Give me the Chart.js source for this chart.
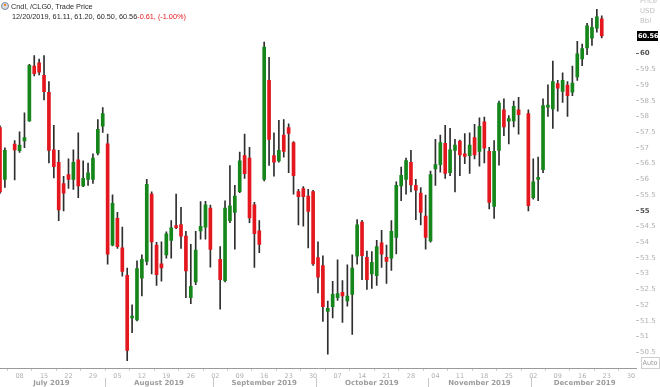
<!DOCTYPE html>
<html>
<head>
<meta charset="utf-8">
<script src="https://cdn.jsdelivr.net/npm/chart.js@4.4.1/dist/chart.umd.min.js"></script>
<style>
  html, body { margin: 0; padding: 0; background: #fff; }
  canvas { display: block; }
</style>
</head>
<body>
<canvas id="chart" width="660" height="387"></canvas>
<script>
// chart data, /CLG0 daily candles

const headerTitle = 'Cndl, /CLG0, Trade Price';
const firstDay = '2019-07-02';
const lastDay = '2019-12-31';
const holidays = ['2019-07-04', '2019-09-02', '2019-11-28'];
const monthNames = ['January', 'February', 'March', 'April', 'May', 'June', 'July',
    'August', 'September', 'October', 'November', 'December'];

const opens = [
    57.65, 56.00, 57.12, 56.91, 57.22, 57.86, 59.60, 59.71, 59.31, 58.77, 56.94, 56.54, 55.87, 56.15, 56.00, 56.62, 55.79, 56.00, 56.00, 56.83, 57.69,
    57.13, 53.91, 54.76, 53.82, 52.95, 51.59, 51.53, 52.86, 53.39, 55.53, 53.91, 53.31, 53.60, 54.06, 54.53, 54.56, 54.20, 52.24, 52.74, 54.36, 54.48, 55.09,
    53.46, 52.78, 54.69, 54.95, 55.61, 56.76, 56.68, 55.19, 54.36, 56.00, 59.15, 56.76, 56.59, 57.41, 57.65, 57.17, 55.61, 55.71, 55.47, 55.61,
    53.51, 53.26, 51.80, 51.95, 52.24, 52.41, 52.13, 52.34, 53.56, 54.64, 53.52, 52.99, 52.94, 53.98, 53.52, 53.49, 54.15, 55.79, 56.00, 56.54, 55.81, 55.56, 54.83,
    54.04, 56.33, 56.47, 57.15, 56.21, 56.92, 57.22, 56.81, 56.75, 57.33, 56.89, 57.83, 56.89, 55.14, 56.92, 58.21, 57.85, 57.86, 58.21, 58.09,
    55.42, 56.00, 56.31, 58.30, 58.24, 59.05, 58.80, 59.00, 58.77, 59.26, 59.83, 60.18, 60.49, 60.81, 61.11
];
const highs = [
    57.70, 57.00, 57.23, 57.51, 58.12, 59.66, 59.94, 59.83, 59.94, 59.11, 57.72, 56.92, 56.10, 56.65, 56.94, 57.48, 56.59, 56.52, 56.81, 57.90, 58.28,
    57.44, 55.51, 54.95, 54.48, 53.18, 52.01, 53.41, 53.60, 56.00, 55.60, 54.00, 54.01, 54.33, 54.69, 55.53, 55.11, 54.35, 53.93, 54.35, 55.29, 55.30, 55.18,
    53.86, 55.32, 56.44, 55.81, 56.87, 57.44, 57.02, 55.27, 54.69, 60.37, 59.88, 57.48, 57.88, 57.90, 57.77, 57.20, 55.68, 55.77, 55.68, 55.65,
    54.01, 53.57, 52.13, 52.76, 53.44, 52.78, 53.28, 53.60, 54.72, 54.70, 53.72, 53.70, 54.06, 54.38, 53.91, 54.69, 55.92, 56.39, 56.68, 56.92, 56.00, 55.74, 55.50,
    56.26, 57.27, 57.41, 57.72, 57.62, 57.27, 57.25, 57.46, 57.48, 57.75, 57.96, 57.98, 57.02, 57.23, 58.49, 58.56, 58.03, 58.49, 58.61, 58.21,
    56.65, 56.71, 58.56, 59.01, 59.76, 59.15, 59.39, 59.11, 59.60, 60.39, 60.30, 60.96, 61.12, 61.41, 61.20
];
const lows = [
    55.55, 55.74, 55.98, 56.86, 57.01, 57.84, 59.29, 59.32, 58.53, 56.52, 56.05, 54.69, 55.00, 55.71, 55.68, 55.42, 55.77, 55.81, 55.87, 56.78, 57.49,
    53.30, 53.88, 53.80, 52.92, 50.23, 51.12, 51.50, 52.29, 53.28, 52.99, 52.63, 52.76, 53.49, 53.49, 54.43, 53.80, 52.24, 52.05, 52.65, 54.10, 54.10, 53.21,
    51.87, 52.74, 54.62, 53.78, 55.58, 56.03, 54.62, 53.20, 53.67, 55.95, 56.44, 56.10, 56.55, 56.71, 56.21, 55.53, 54.55, 54.51, 53.82, 53.26,
    52.39, 51.48, 50.44, 51.59, 52.15, 51.45, 51.97, 51.07, 53.30, 52.81, 52.50, 52.53, 52.63, 53.20, 52.69, 53.10, 53.63, 55.32, 55.53, 55.60, 54.72, 54.55, 53.78,
    54.00, 55.81, 56.23, 56.03, 56.12, 55.60, 56.12, 56.50, 56.19, 56.65, 56.42, 56.52, 55.06, 54.76, 56.45, 57.39, 57.13, 57.67, 57.44, 55.00,
    55.37, 55.32, 56.21, 58.00, 57.62, 58.17, 58.45, 58.00, 58.66, 59.15, 59.62, 59.97, 60.26, 60.68, 60.50
];
const closes = [
    55.60, 56.92, 56.94, 57.09, 57.33, 59.63, 59.36, 59.41, 58.79, 56.92, 56.40, 55.03, 55.56, 56.00, 56.54, 55.79, 56.03, 56.21, 56.68, 57.59, 58.09,
    53.62, 55.24, 53.86, 53.07, 50.56, 51.64, 53.16, 53.46, 55.84, 54.01, 52.97, 53.18, 54.27, 54.46, 54.46, 54.19, 53.09, 52.60, 53.75, 54.51, 55.19, 53.77,
    52.81, 55.09, 55.16, 55.47, 56.59, 56.18, 54.77, 54.27, 53.93, 60.21, 57.27, 56.55, 56.92, 56.89, 57.46, 56.12, 55.45, 55.45, 54.98, 53.31,
    52.89, 51.95, 51.90, 52.34, 52.37, 52.29, 52.29, 53.18, 54.55, 53.57, 52.81, 53.36, 53.86, 53.62, 53.39, 54.35, 55.81, 56.13, 56.60, 55.82, 55.66, 54.95, 54.15,
    56.15, 56.47, 57.17, 56.19, 56.94, 57.09, 56.78, 56.73, 57.09, 56.78, 57.69, 56.99, 55.27, 56.89, 58.43, 57.67, 57.93, 58.32, 58.06, 55.16,
    55.92, 56.05, 58.35, 58.35, 59.11, 58.90, 59.15, 58.66, 59.06, 59.99, 60.16, 60.88, 60.84, 61.17, 60.56
];

const yTicks = [50.5, 51, 51.5, 52, 52.5, 53, 53.5, 54, 54.5, 55, 55.5, 56, 56.5, 57, 57.5, 58, 58.5, 59, 59.5, 60];
const yMin = 50;
const yMax = 61.54;
const axisUnits = ['Price', 'USD', 'Bbl'];

const UP = '#15861a';
const DOWN = '#e3171d';
const WICK = '#2e2e2e';
const FONT = 'DejaVu Sans';

// weekday slots (holidays stay as empty slots)
function weekdayList(from, to) {
    const out = [];
    const d = new Date(from + 'T00:00:00Z');
    const end = new Date(to + 'T00:00:00Z');
    while (d <= end) {
        const wd = d.getUTCDay();
        if (wd !== 0 && wd !== 6) out.push(d.toISOString().slice(0, 10));
        d.setUTCDate(d.getUTCDate() + 1);
    }
    return out;
}

const slots = weekdayList(firstDay, lastDay);
const tradingDays = slots.filter(d => !holidays.includes(d)).slice(0, opens.length);
const mondays = slots.map((d, i) => new Date(d + 'T00:00:00Z').getUTCDay() === 1 ? i : -1).filter(i => i >= 0);

const bodies = tradingDays.map((d, i) => ({ x: d, y: [opens[i], closes[i]] }));
const wicks = tradingDays.map((d, i) => ({ x: d, y: [lows[i], highs[i]] }));
const candleColor = ctx => closes[ctx.dataIndex] >= opens[ctx.dataIndex] ? UP : DOWN;
const isMajor = ctx => !!(ctx.tick && ctx.tick.value % 5 === 0);

const overlay = {
    id: 'overlay',
    afterDraw(chart) {
        const ctx = chart.ctx;
        const xs = chart.scales.x;
        const ys = chart.scales.y;
        const area = chart.chartArea;
        ctx.save();

        // header
        ctx.beginPath();
        ctx.arc(5, 6, 3.5, 0, Math.PI * 2);
        ctx.fillStyle = '#d9dde6';
        ctx.fill();
        ctx.strokeStyle = '#7d8596';
        ctx.lineWidth = 1;
        ctx.stroke();
        ctx.fillStyle = '#e88a2a';
        ctx.fillRect(4, 4, 2, 2);

        const last = closes.length - 1;
        const [yy, mm, dd] = tradingDays[last].split('-');
        const change = closes[last] - closes[last - 1];
        const pct = change / closes[last - 1] * 100;
        const line2 = `${mm}/${dd}/${yy}, ${opens[last].toFixed(2)}, ${highs[last].toFixed(2)}, ${lows[last].toFixed(2)}, ${closes[last].toFixed(2)}`;
        const line2Red = `${change.toFixed(2)}, (${pct.toFixed(2)}%)`;

        ctx.font = `7.3px 'Liberation Sans'`;
        ctx.textBaseline = 'middle';
        ctx.textAlign = 'left';
        ctx.fillStyle = '#2a2a2a';
        ctx.fillText(headerTitle, 11, 6.5);
        ctx.fillText(line2, 12, 16.5);
        const w = ctx.measureText(line2).width;
        ctx.fillStyle = DOWN;
        ctx.fillText(line2Red, 12 + w, 16.5);

        // units on the price axis
        ctx.font = `7px '${FONT}'`;
        ctx.fillStyle = '#c0c0c0';
        axisUnits.forEach((u, i) => ctx.fillText(u, area.right + 4, 1 + i * 10));

        // last price tag
        const py = ys.getPixelForValue(closes[last]);
        ctx.fillStyle = '#000';
        ctx.fillRect(area.right + 1, py - 5, 21, 10);
        ctx.font = `bold 6.5px '${FONT}'`;
        ctx.fillStyle = '#fff';
        ctx.fillText(closes[last].toFixed(2), area.right + 2, py + 0.5);

        // Auto box
        ctx.strokeStyle = '#cfcfcf';
        ctx.strokeRect(641.5, 357.5, 18, 11);
        ctx.font = `6.5px '${FONT}'`;
        ctx.fillStyle = '#9a9a9a';
        ctx.fillText('Auto', 642.5, 363.5);

        // month labels and separators
        const groups = [];
        slots.forEach((d, i) => {
            const key = d.slice(0, 7);
            const g = groups[groups.length - 1];
            if (g && g.key === key) g.last = i;
            else groups.push({ key, first: i, last: i });
        });
        ctx.font = `bold 7px '${FONT}'`;
        ctx.textAlign = 'center';
        groups.forEach((g, k) => {
            const cx = (xs.getPixelForValue(g.first) + xs.getPixelForValue(g.last)) / 2;
            const m = parseInt(g.key.slice(5, 7), 10) - 1;
            ctx.fillStyle = '#9c9c9c';
            ctx.fillText(`${monthNames[m]} ${g.key.slice(0, 4)}`, cx, 383);
            if (k < groups.length - 1) {
                const sx = Math.round((xs.getPixelForValue(g.last) + xs.getPixelForValue(g.last + 1)) / 2) + 0.5;
                ctx.strokeStyle = '#c8c8c8';
                ctx.beginPath();
                ctx.moveTo(sx, 378);
                ctx.lineTo(sx, 387);
                ctx.stroke();
            }
        });
        ctx.restore();
    }
};

new Chart(document.getElementById('chart'), {
    type: 'bar',
    data: {
        labels: slots,
        datasets: [
            {
                data: bodies,
                backgroundColor: candleColor,
                barThickness: 3,
                minBarLength: 2,
                grouped: false
            },
            {
                data: wicks,
                backgroundColor: WICK,
                barThickness: 1,
                grouped: false
            }
        ]
    },
    options: {
        responsive: false,
        devicePixelRatio: 1,
        animation: false,
        layout: { padding: 0 },
        plugins: { legend: { display: false }, tooltip: { enabled: false }, title: { display: false } },
        scales: {
            x: {
                type: 'category',
                offset: false,
                grid: { drawOnChartArea: false, drawTicks: true, tickLength: 3, tickColor: '#cfcfcf' },
                border: { display: true, color: '#9a9a9a' },
                ticks: {
                    autoSkip: false,
                    maxRotation: 0,
                    padding: 1,
                    color: '#b0b0b0',
                    font: { family: FONT, size: 6.5 },
                    callback: v => slots[v].slice(8, 10)
                },
                afterBuildTicks: scale => { scale.ticks = mondays.map(i => ({ value: i })); },
                afterFit: scale => { scale.height = 19; }
            },
            y: {
                position: 'right',
                min: yMin,
                max: yMax,
                grid: {
                    drawOnChartArea: false,
                    drawTicks: true,
                    tickLength: 3,
                    tickColor: ctx => isMajor(ctx) ? '#666' : '#c4c4c4'
                },
                border: { display: false },
                ticks: {
                    padding: 1,
                    color: ctx => isMajor(ctx) ? '#555' : '#b0b0b0',
                    font: ctx => ({ family: FONT, size: 7, weight: isMajor(ctx) ? 'bold' : 'normal' }),
                    callback: v => String(v)
                },
                afterBuildTicks: scale => { scale.ticks = yTicks.map(v => ({ value: v })); },
                afterFit: scale => { scale.width = 24; }
            }
        }
    },
    plugins: [overlay]
});
</script>
</body>
</html>
